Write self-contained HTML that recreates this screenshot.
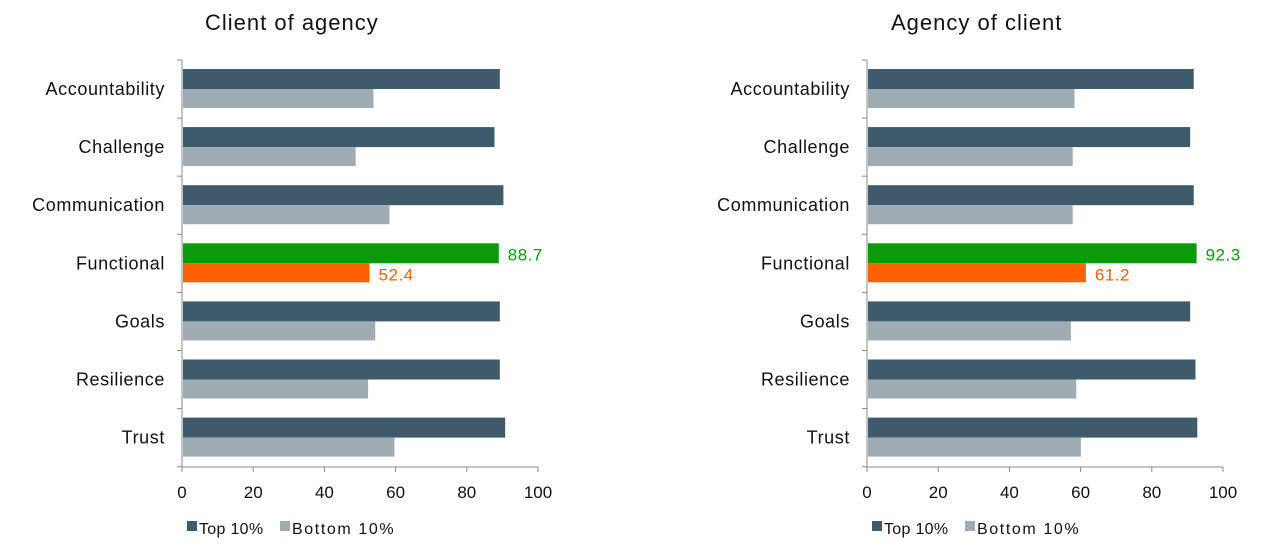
<!DOCTYPE html>
<html><head><meta charset="utf-8"><style>
html,body{margin:0;padding:0;background:#fff;}
svg{display:block;font-family:"Liberation Sans",sans-serif;}
</style></head><body>
<svg id="s" width="1280" height="558" xmlns="http://www.w3.org/2000/svg">
<rect width="1280" height="558" fill="#fff"/>
<text x="205" y="30" font-size="22" letter-spacing="1" fill="#111">Client of agency</text>
<text x="891" y="30" font-size="22" letter-spacing="1" fill="#111">Agency of client</text>
</svg>
<script>
var s=document.getElementById('s'),h='';
var cats=["Accountability","Challenge","Communication","Functional","Goals","Resilience","Trust"];
var charts=[{x0:182,top:[89,87.5,90,88.7,89,89,90.5],bot:[53.5,48.5,58,52.4,54,52,59.4]},
{x0:867,top:[91.5,90.5,91.5,92.3,90.5,92,92.5],bot:[58,57.5,57.5,61.2,57,58.5,59.8]}];
var W=356,y0=60,rh=58.1;
charts.forEach(function(c){
 var x0=c.x0;
 for(var i=0;i<7;i++){
  var ry=y0+i*rh;
  var f=i==3;
  var tw=c.top[i]*W/100,bw=c.bot[i]*W/100;
  h+='<rect x="'+(x0+1)+'" y="'+(ry+9)+'" width="'+tw+'" height="20" fill="'+(f?'#0a9a0a':'#3e5a6b')+'"/>';
  h+='<rect x="'+(x0+1)+'" y="'+(ry+29)+'" width="'+bw+'" height="19" fill="'+(f?'#ff6100':'#a0acb3')+'"/>';
  h+='<text x="'+(x0-17)+'" y="'+(ry+35)+'" font-size="18" letter-spacing="0.6" text-anchor="end" fill="#111">'+cats[i]+'</text>';
  if(f){
   h+='<text x="'+(x0+tw+10)+'" y="'+(ry+26)+'" font-size="17" letter-spacing="0.5" fill="#0a9a0a">'+c.top[i]+'</text>';
   h+='<text x="'+(x0+bw+10)+'" y="'+(ry+46)+'" font-size="17" letter-spacing="0.5" fill="#ff6100">'+c.bot[i]+'</text>';
  }
 }
 for(var i=0;i<=7;i++){var ty=y0+i*rh;h+='<line x1="'+(x0-5)+'" x2="'+x0+'" y1="'+ty+'" y2="'+ty+'" stroke="#888"/>';}
 h+='<line x1="'+x0+'" x2="'+x0+'" y1="'+y0+'" y2="467" stroke="#888"/>';
 h+='<line x1="'+x0+'" x2="'+(x0+W)+'" y1="467" y2="467" stroke="#888"/>';
 for(var k=0;k<=5;k++){var tx=x0+k*W/5;h+='<line x1="'+tx+'" x2="'+tx+'" y1="467" y2="472" stroke="#888"/>';
  h+='<text x="'+tx+'" y="498" font-size="17" text-anchor="middle" fill="#111">'+(k*20)+'</text>';}
 h+='<rect x="'+(x0+5)+'" y="521" width="10" height="10" fill="#3e5a6b"/>';
 h+='<text x="'+(x0+17)+'" y="534" font-size="16" letter-spacing="0.3" fill="#111">Top 10%</text>';
 h+='<rect x="'+(x0+98)+'" y="521" width="10" height="10" fill="#a0acb3"/>';
 h+='<text x="'+(x0+110)+'" y="534" font-size="16" letter-spacing="1.6" fill="#111">Bottom 10%</text>';
});
s.insertAdjacentHTML('beforeend',h);
</script>
</body></html>
